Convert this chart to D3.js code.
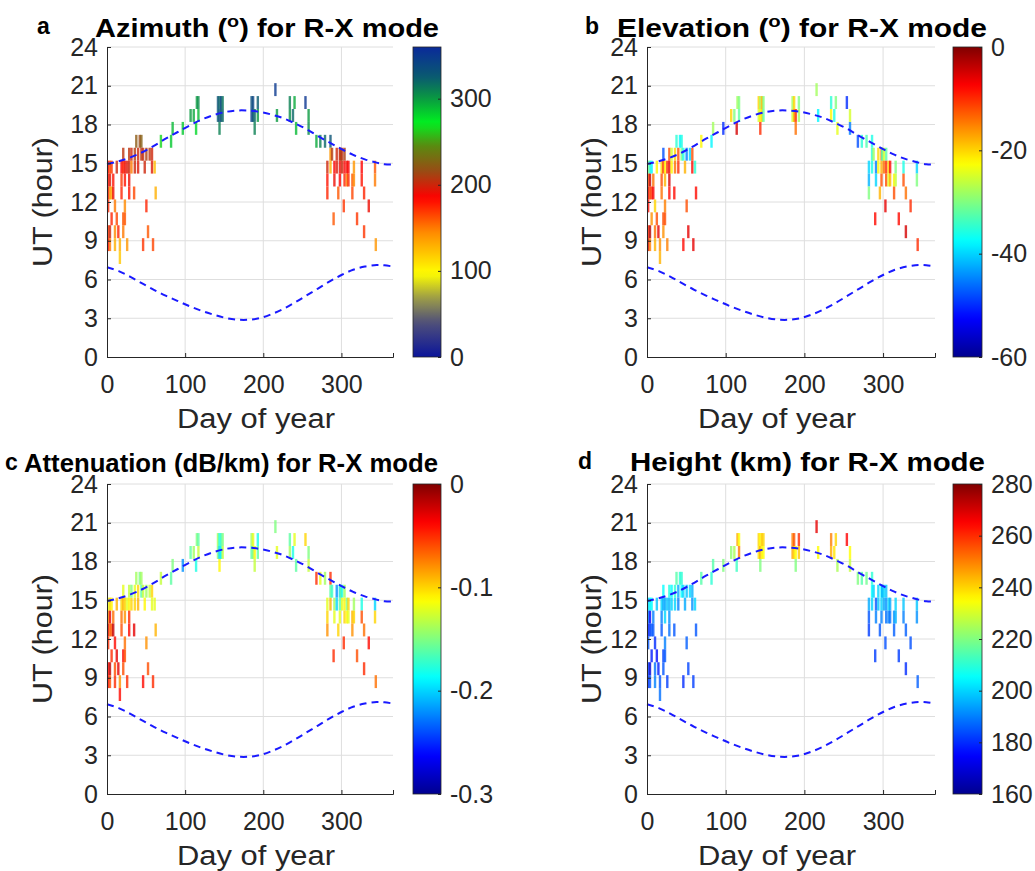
<!DOCTYPE html>
<html>
<head>
<meta charset="utf-8">
<script src="https://cdn.jsdelivr.net/npm/d3@7"></script>
<style>
  body { margin: 0; background: #fff; }
  svg { display: block; font-family: "Liberation Sans", Arial, Helvetica, sans-serif; }
</style>
</head>
<body>
<svg id="chart" width="1035" height="871"></svg>
<script>
// ---- data ----
// every mark is one day x one hour cell: hourBin is the lower edge of the cell (UT)
var dayOfYear = [
    1.5, 1.5, 1.5, 1.5, 1.5, 1.5,
    3.8, 3.8, 3.8, 3.8, 3.8,
    5.9, 5.9, 5.9,
    8, 8,
    10.2, 10.2, 10.2,
    12.5, 12.5, 14.5,
    16.5, 16.5,
    18.6, 18.6, 18.6,
    20.8, 20.8, 20.8, 20.8,
    22.9, 22.9, 22.9, 22.9,
    25.8, 25.8,
    28.4, 28.4, 28.4, 28.4,
    31.3, 31.3, 34.7, 35.6, 35.6,
    37.5, 39.8, 39.8, 41.9, 44, 44,
    46.2, 46.2, 48.3, 50.4, 50.4, 52.5,
    54.6, 57.6, 57.6, 58.9, 61, 62.3,
    69, 82, 84, 97, 107, 111, 114, 115, 117, 117,
    142, 142, 144, 144, 144, 146, 146, 148, 148,
    185, 185, 187, 187, 189, 189, 193, 193,
    215.5, 217.5, 234, 234, 238, 240, 242, 254, 258, 258,
    268, 273, 279, 286,
    282, 282, 282, 286, 286, 288, 290,
    291, 291, 294, 294, 296, 298, 298, 298,
    299, 301, 301, 303, 304, 304, 304, 307, 307,
    309, 309, 314, 314, 316, 316, 320,
    326, 326, 329, 329, 335, 343, 343, 344
];
var hourBin = [
    14.2, 13.2, 12.2, 11.2, 9.2, 8.2,
    14.2, 13.2, 12.2, 9.2, 8.2,
    14.2, 12.2, 10.2,
    13.2, 12.2,
    11.2, 9.2, 8.2,
    14.2, 10.2, 9.2,
    8.2, 7.2,
    14.2, 13.2, 12.2,
    15.2, 14.2, 10.2, 9.2,
    14.2, 13.2, 11.2, 10.2,
    14.2, 8.2,
    15.2, 14.2, 13.2, 12.2,
    14.2, 15.2, 12.2, 15.2, 14.2,
    16.2, 15.2, 14.2, 16.2, 15.2, 16.2,
    15.2, 8.2, 14.2, 15.2, 11.2, 9.2,
    15.2, 15.2, 14.2, 8.2, 14.2, 12.2,
    16.2, 16.2, 17.2, 17.2, 18.2, 18.2, 17.2, 19.2, 19.2, 18.2,
    19.2, 18.2, 19.2, 18.2, 17.2, 19.2, 18.2, 19.2, 18.2,
    19.2, 18.2, 19.2, 18.2, 18.2, 17.2, 19.2, 18.2,
    20.2, 18.2, 19.2, 18.2, 18.2, 19.2, 17.2, 19.2, 17.2, 18.2,
    16.2, 16.2, 16.2, 16.2,
    14.2, 13.2, 12.2, 15.2, 14.2, 15.2, 10.2,
    14.2, 13.2, 15.2, 14.2, 12.2, 15.2, 14.2, 13.2,
    15.2, 15.2, 14.2, 11.2, 15.2, 14.2, 13.2, 14.2, 13.2,
    14.2, 13.2, 13.2, 12.2, 14.2, 13.2, 10.2,
    14.2, 13.2, 12.2, 9.2, 11.2, 14.2, 13.2, 8.2
];
var azimuthDeg = [
    185, 180, 190, 175, 170, 185,
    160, 195, 140, 200, 150,
    170, 135, 175,
    180, 190,
    150, 145, 130,
    200, 165, 175,
    130, 120,
    185, 170, 175,
    205, 175, 160, 150,
    190, 180, 145, 160,
    195, 140,
    205, 200, 190, 180,
    150, 200, 165, 208, 200,
    222, 200, 195, 215, 205, 225,
    203, 170, 200, 210, 175, 160,
    205, 200, 195, 165, 125, 130,
    265, 285, 290, 285, 300, 295, 280, 300, 305, 290,
    330, 325, 320, 335, 310, 340, 330, 315, 320,
    335, 345, 340, 330, 320, 310, 325, 300,
    350, 300, 310, 305, 320, 295, 290, 352, 305, 300,
    295, 310, 320, 330,
    200, 180, 175, 140, 130, 208, 160,
    185, 190, 200, 195, 160, 195, 190, 185,
    212, 205, 200, 170, 210, 185, 175, 190, 150,
    185, 175, 160, 165, 140, 145, 170,
    185, 180, 175, 170, 190, 160, 150, 140
];
var elevationDeg = [
    -30, -12, -6, -8, -10, -5,
    -35, -4, -12, -3, -15,
    -38, -10, -16,
    -14, -7,
    -20, -14, -18,
    -22, -12, -6,
    -16, -18,
    -20, -12, -14,
    -48, -10, -12, -16,
    -22, -18, -15, -12,
    -10, -15,
    -12, -6, -5, -8,
    -22, -25, -8, -20, -14,
    -35, -12, -10, -38, -30, -36,
    -36, -8, -18, -45, -12, -6,
    -40, -12, -8, -6, -35, -8,
    -22, -38, -28, -50, -20, -30, -5, -28, -30, -32,
    -20, -25, -28, -22, -10, -18, -20, -30, -32,
    -28, -25, -20, -18, -10, -14, -30, -28,
    -28, -38, -35, -22, -36, -30, -24, -50, -45, -25,
    -48, -35, -33, -36,
    -40, -42, -30, -35, -36, -28, -8,
    -45, -40, -20, -22, -18, -15, -18, -12,
    -34, -25, -14, -6, -32, -10, -12, -20, -24,
    -8, -18, -22, -12, -30, -26, -8,
    -36, -12, -14, -5, -10, -40, -30, -10
];
var attenuationDbKm = [
    -0.12, -0.08, -0.03, -0.05, -0.04, -0.04,
    -0.10, -0.03, -0.07, -0.02, -0.06,
    -0.11, -0.06, -0.05,
    -0.07, -0.02,
    -0.04, -0.06, -0.05,
    -0.09, -0.03, -0.03,
    -0.08, -0.04,
    -0.10, -0.07, -0.06,
    -0.12, -0.09, -0.04, -0.06,
    -0.10, -0.08, -0.07, -0.06,
    -0.12, -0.05,
    -0.13, -0.11, -0.05, -0.04,
    -0.10, -0.15, -0.03, -0.12, -0.10,
    -0.14, -0.10, -0.09, -0.15, -0.16, -0.14,
    -0.13, -0.04, -0.11, -0.14, -0.08, -0.06,
    -0.13, -0.10, -0.12, -0.05, -0.12, -0.09,
    -0.13, -0.16, -0.15, -0.22, -0.16, -0.14, -0.18, -0.15, -0.16, -0.13,
    -0.14, -0.15, -0.18, -0.20, -0.11, -0.17, -0.19, -0.15, -0.13,
    -0.14, -0.16, -0.12, -0.15, -0.11, -0.13, -0.18, -0.16,
    -0.15, -0.12, -0.16, -0.14, -0.18, -0.12, -0.16, -0.10, -0.13, -0.15,
    -0.05, -0.12, -0.14, -0.05,
    -0.12, -0.10, -0.08, -0.16, -0.09, -0.17, -0.05,
    -0.14, -0.12, -0.22, -0.20, -0.10, -0.20, -0.16, -0.12,
    -0.16, -0.18, -0.12, -0.05, -0.14, -0.11, -0.10, -0.15, -0.11,
    -0.10, -0.12, -0.09, -0.08, -0.14, -0.10, -0.06,
    -0.18, -0.06, -0.07, -0.05, -0.04, -0.20, -0.10, -0.07
];
var heightKm = [
    200, 190, 178, 185, 182, 180,
    205, 175, 182, 170, 185,
    205, 185, 178,
    190, 185,
    180, 188, 190,
    198, 176, 178,
    185, 188,
    200, 190, 185,
    205, 195, 183, 185,
    195, 200, 190, 185,
    198, 182,
    208, 196, 192, 188,
    200, 205, 185, 210, 200,
    215, 195, 190, 210, 205, 210,
    200, 180, 195, 198, 186, 183,
    200, 196, 192, 182, 200, 185,
    215, 210, 215, 220, 222, 225, 212, 245, 235, 250,
    240, 238, 235, 245, 220, 242, 236, 240, 235,
    250, 245, 255, 240, 235, 220, 260, 242,
    268, 235, 250, 245, 238, 240, 225, 265, 228, 235,
    220, 215, 218, 210,
    195, 185, 182, 205, 200, 200, 182,
    185, 190, 200, 198, 185, 205, 200, 190,
    195, 200, 195, 184, 198, 192, 188, 200, 190,
    195, 188, 192, 186, 200, 196, 182,
    198, 190, 186, 180, 184, 198, 192, 186
];

// dashed sunrise / sunset lines (UT hour)
var curveDays = [0, 15, 30, 45, 60, 75, 90, 105, 120, 135, 150, 165, 180, 195, 210, 225, 240, 255, 270, 285, 300, 315, 330, 345, 355, 366];
var sunsetUT = [14.95, 15.15, 15.45, 15.85, 16.35, 16.9, 17.4, 17.9, 18.35, 18.7, 18.95, 19.08, 19.08, 18.98, 18.78, 18.5, 18.1, 17.65, 17.1, 16.6, 16.1, 15.65, 15.3, 15.05, 14.92, 14.9];
var sunriseUT = [6.95, 6.65, 6.2, 5.7, 5.2, 4.75, 4.35, 3.95, 3.6, 3.3, 3.05, 2.9, 2.88, 3.0, 3.3, 3.7, 4.2, 4.75, 5.3, 5.85, 6.35, 6.75, 7.0, 7.12, 7.1, 7.0];

// ticks
var dayTicks = [0, 100, 200, 300];
var hourTicks = [0, 3, 6, 9, 12, 15, 18, 21, 24];
var azimuthTicks = [0, 100, 200, 300];
var elevationTicks = [-60, -40, -20, 0];
var attenuationTicks = [-0.3, -0.2, -0.1, 0];
var heightTicks = [160, 180, 200, 220, 240, 260, 280];

// colour maps: azimuth uses a custom cyclic map, the rest use jet
var azimuthStops = [0, 40, 68, 97, 145, 185, 215, 245, 272, 300, 325, 360];
var azimuthColors = ["#0a149a", "#50507a", "#9a9a48", "#ffff00", "#ff8a00", "#ff0000", "#9a4a14", "#5a8a10", "#00f020", "#0a9a40", "#0a5a70", "#0a2a9a"];
var jetStops = [0, 0.125, 0.375, 0.625, 0.875, 1];
var jetColors = ["#00008f", "#0000ff", "#00ffff", "#ffff00", "#ff0000", "#800000"];

var textColor = "#262626";
var tickFont = "25px";
var svg = d3.select("#chart");

svg.append("rect")
    .attr("width", 1035)
    .attr("height", 871)
    .style("fill", "#fff");

/**
 * Function jetScale: builds a jet colour scale across [lo, hi]
 */
function jetScale(lo, hi) {
    return d3.scaleLinear()
        .domain(jetStops.map(s => lo + s * (hi - lo)))
        .range(jetColors)
        .clamp(true);
}

var panels = [
    {
        values: azimuthDeg, domain: [0, 360], ticks: azimuthTicks,
        color: d3.scaleLinear().domain(azimuthStops).range(azimuthColors).clamp(true),
        left: 107, right: 393, top: 47, bottom: 357, cbLeft: 413, cbWidth: 28,
        letter: "a", letterX: 37, letterY: 34,
        title: ["Azimuth (", "o", ") for R-X mode"], titleX: 95, titleY: 37, titleLen: 344,
        ylabX: 52, xlabX: 177, xlabY: 428
    },
    {
        values: elevationDeg, domain: [-60, 0], ticks: elevationTicks,
        color: jetScale(-60, 0),
        left: 647, right: 935, top: 47, bottom: 357, cbLeft: 953, cbWidth: 29,
        letter: "b", letterX: 585, letterY: 34,
        title: ["Elevation (", "o", ") for R-X mode"], titleX: 617, titleY: 37, titleLen: 370,
        ylabX: 601, xlabX: 698, xlabY: 428
    },
    {
        values: attenuationDbKm, domain: [-0.3, 0], ticks: attenuationTicks,
        color: jetScale(-0.3, 0),
        left: 107, right: 393, top: 484, bottom: 794, cbLeft: 413, cbWidth: 28,
        letter: "c", letterX: 5, letterY: 470,
        title: ["Attenuation (dB/km) for R-X mode"], titleX: 24, titleY: 472, titleLen: 414,
        ylabX: 52, xlabX: 177, xlabY: 865
    },
    {
        values: heightKm, domain: [160, 280], ticks: heightTicks,
        color: jetScale(160, 280),
        left: 647, right: 935, top: 484, bottom: 794, cbLeft: 953, cbWidth: 29,
        letter: "d", letterX: 578, letterY: 469,
        title: ["Height (km) for R-X mode"], titleX: 630, titleY: 471, titleLen: 355,
        ylabX: 601, xlabX: 698, xlabY: 865
    }
];

/**
 * Function drawPanel: one subplot with its grid, cells, dashed lines and colorbar
 */
function drawPanel(p, idx) {
    var x = d3.scaleLinear().domain([0, 366]).range([p.left, p.right]);
    var y = d3.scaleLinear().domain([0, 24]).range([p.bottom, p.top]);
    var g = svg.append("g");

    // grid
    g.selectAll(".vgrid")
        .data(dayTicks.slice(1))
        .enter()
        .append("line")
        .attr("x1", d => x(d)).attr("x2", d => x(d))
        .attr("y1", p.top).attr("y2", p.bottom)
        .style("stroke", "#dedede").style("stroke-width", 1);
    g.selectAll(".hgrid")
        .data(hourTicks.slice(1))
        .enter()
        .append("line")
        .attr("x1", p.left).attr("x2", p.right)
        .attr("y1", d => y(d)).attr("y2", d => y(d))
        .style("stroke", "#dedede").style("stroke-width", 1);

    // data cells
    g.selectAll(".cell")
        .data(d3.range(dayOfYear.length))
        .enter()
        .append("rect")
        .attr("x", i => x(dayOfYear[i]) - 1.2)
        .attr("y", i => y(hourBin[i] + 1))
        .attr("width", 2.4)
        .attr("height", i => y(hourBin[i]) - y(hourBin[i] + 1))
        .style("fill", i => p.color(p.values[i]))
        .style("opacity", 0.8);

    // sunrise / sunset
    var line = d3.line().curve(d3.curveCatmullRom);
    [sunsetUT, sunriseUT].forEach(series => {
        g.append("path")
            .attr("d", line(curveDays.map((d, i) => [x(d), y(series[i])])))
            .style("fill", "none")
            .style("stroke", "#1a1aff")
            .style("stroke-width", 2)
            .style("stroke-dasharray", "7,5");
    });

    // axes
    var yAxis = g.append("g")
        .attr("transform", "translate(" + p.left + ",0)")
        .call(d3.axisLeft(y).tickValues(hourTicks).tickSize(-4).tickPadding(9));
    var xAxis = g.append("g")
        .attr("transform", "translate(0," + p.bottom + ")")
        .call(d3.axisBottom(x).tickValues(dayTicks).tickSize(-4).tickPadding(18));
    [yAxis, xAxis].forEach(a => {
        a.select(".domain").style("stroke", textColor);
        a.selectAll(".tick line").style("stroke", textColor);
        a.selectAll("text")
            .style("font-size", tickFont)
            .style("font-family", "'Liberation Sans', Arial, sans-serif")
            .style("fill", textColor);
    });

    // axis labels
    g.append("text")
        .attr("x", p.xlabX)
        .attr("y", p.xlabY)
        .attr("textLength", 158)
        .attr("lengthAdjust", "spacingAndGlyphs")
        .style("font-size", "27px")
        .style("fill", textColor)
        .text("Day of year");
    g.append("text")
        .attr("transform", "translate(" + p.ylabX + "," + ((p.top + p.bottom) / 2 + 65) + ") rotate(-90)")
        .attr("textLength", 130)
        .attr("lengthAdjust", "spacingAndGlyphs")
        .style("font-size", "27px")
        .style("fill", textColor)
        .text("UT (hour)");

    // panel letter and title
    g.append("text")
        .attr("x", p.letterX)
        .attr("y", p.letterY)
        .style("font-size", "23px")
        .style("font-weight", "bold")
        .text(p.letter);
    var title = g.append("text")
        .attr("x", p.titleX)
        .attr("y", p.titleY)
        .attr("textLength", p.titleLen)
        .attr("lengthAdjust", "spacingAndGlyphs")
        .style("font-size", "25px")
        .style("font-weight", "bold")
        .style("fill", "#000");
    title.append("tspan").text(p.title[0]);
    if (p.title.length > 1) {
        title.append("tspan").attr("dy", -10).style("font-size", "17px").text(p.title[1]);
        title.append("tspan").attr("dy", 10).text(p.title[2]);
    }

    // colorbar
    var gradId = "cb-grad-" + idx;
    var grad = svg.append("defs").append("linearGradient")
        .attr("id", gradId)
        .attr("x1", "0%").attr("y1", "100%")
        .attr("x2", "0%").attr("y2", "0%");
    d3.range(0, 1.0001, 0.02).forEach(t => {
        grad.append("stop")
            .attr("offset", (t * 100) + "%")
            .attr("stop-color", p.color(p.domain[0] + t * (p.domain[1] - p.domain[0])));
    });
    g.append("rect")
        .attr("x", p.cbLeft)
        .attr("y", p.top)
        .attr("width", p.cbWidth)
        .attr("height", p.bottom - p.top)
        .style("fill", "url(#" + gradId + ")")
        .style("stroke", textColor)
        .style("stroke-width", 0.8);

    var cbScale = d3.scaleLinear().domain(p.domain).range([p.bottom, p.top]);
    var cbAxis = g.append("g")
        .attr("transform", "translate(" + (p.cbLeft + p.cbWidth) + ",0)")
        .call(d3.axisRight(cbScale).tickValues(p.ticks).tickSize(-3).tickPadding(9).tickFormat(d => String(d)));
    cbAxis.select(".domain").remove();
    cbAxis.selectAll(".tick line").style("stroke", textColor);
    cbAxis.selectAll("text")
        .style("font-size", tickFont)
        .style("font-family", "'Liberation Sans', Arial, sans-serif")
        .style("fill", textColor);
}

panels.forEach(drawPanel);
</script>
</body>
</html>
